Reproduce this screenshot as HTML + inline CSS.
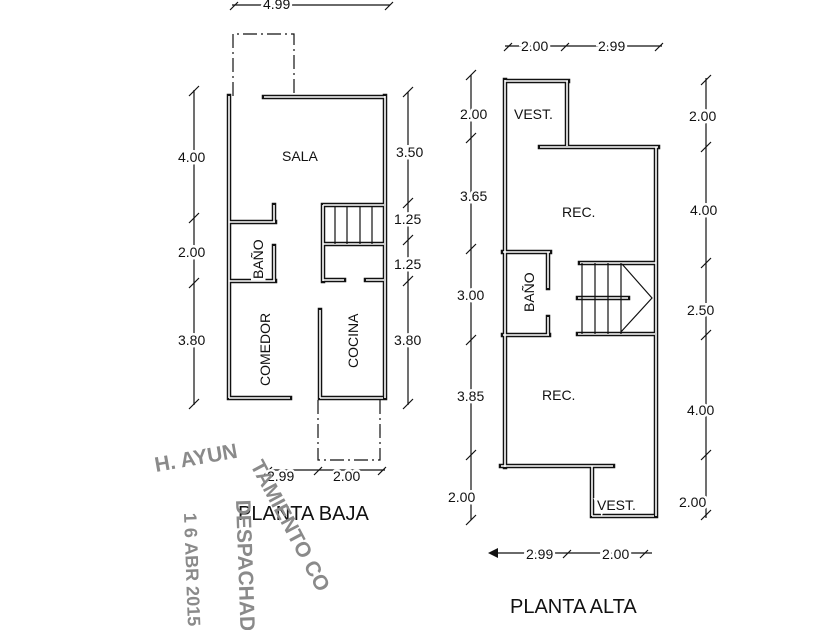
<!DOCTYPE html>
<html><head><meta charset="utf-8"><style>
html,body{margin:0;padding:0;background:#fff;}
svg{display:block}
text{font-family:"Liberation Sans",sans-serif;fill:#111}
</style></head><body>
<svg width="840" height="630" viewBox="0 0 840 630" xmlns="http://www.w3.org/2000/svg">
<defs>
<g id="wb">
<path d="M229 96 V398 M229 398 H290 M264 97 H385 M385 96 V398 M320 398 H383 M320 310 V398
M229 222 H275 M274 205 V222 M229 281 H275 M274 246 V281
M323 205 H384 M323 205 V245 M323 244 H384 M323 245 V281 M323 280 H344 M366 280 H384
M505 80 V467 M505 81 H568 M567 81 V146 M540 147 H658 M656 147 V516
M503 252 H550 M548 252 V288 M503 335 H549 M548 317 V335
M580 263 H656 M578 298 H628 M578 334 H655
M501 466 H613 M592 466 V516 M592 516 H654"/>
</g>
</defs>
<g fill="none" stroke="#111" stroke-width="4.5" stroke-linecap="square"><use href="#wb"/></g>
<g fill="none" stroke="#fff" stroke-width="1.6" stroke-linecap="butt"><use href="#wb"/></g>

<g stroke="#111" stroke-width="1.2" fill="none">
<path d="M335 206 V244 M347 206 V244 M360 206 V244 M372 206 V244"/>
<path d="M582 263 V334 M595 263 V334 M608 263 V334 M621 263 V334 M622 264 L652 298 L620 333"/>
<path d="M233 96 V34 H294 V96" stroke-dasharray="14 4 2 4"/>
<path d="M318 400 V460 H380 V400" stroke-dasharray="14 4 2 4"/>
<path d="M194 90 V405 M408 92 V405 M232 5 H390 M270 470 H385"/>
<path d="M189 96 l10 -10 M189 223 l10 -10 M189 288 l10 -10 M189 409 l10 -10
M403 97 l10 -10 M403 208 l10 -10 M403 245 l10 -10 M403 286 l10 -10 M403 409 l10 -10
M230 10 l8 -8 M385 10 l8 -8 M264 475 l8 -8 M314 475 l8 -8 M378 475 l8 -8"/>
<path d="M471 75 V520 M706 78 V518 M505 46 H662 M492 553 H652"/>
<path d="M466 80 l10 -10 M466 143 l10 -10 M466 254 l10 -10 M466 345 l10 -10 M466 460 l10 -10 M466 525 l10 -10
M701 85 l10 -10 M701 152 l10 -10 M701 268 l10 -10 M701 340 l10 -10 M701 460 l10 -10 M701 520 l10 -10
M504 51 l8 -8 M561 51 l8 -8 M655 51 l8 -8 M563 558 l8 -8 M640 558 l8 -8"/>
</g>

<g font-size="14" stroke="#fff" stroke-width="5" paint-order="stroke">
<text x="282" y="161">SALA</text>
<text x="263" y="9">4.99</text>
<text x="178" y="162">4.00</text>
<text x="178" y="257">2.00</text>
<text x="178" y="345">3.80</text>
<text x="396" y="157">3.50</text>
<text x="394" y="224">1.25</text>
<text x="394" y="269">1.25</text>
<text x="394" y="345">3.80</text>
<text x="267" y="481">2.99</text>
<text x="333" y="481">2.00</text>
<text transform="translate(263,279) rotate(-90)">BAÑO</text>
<text transform="translate(270,386) rotate(-90)">COMEDOR</text>
<text transform="translate(358,368) rotate(-90)">COCINA</text>

<text x="514" y="119">VEST.</text>
<text x="562" y="217">REC.</text>
<text x="542" y="400">REC.</text>
<text x="597" y="510">VEST.</text>
<text transform="translate(534,312) rotate(-90)">BAÑO</text>
<text x="460" y="119">2.00</text>
<text x="460" y="201">3.65</text>
<text x="457" y="300">3.00</text>
<text x="457" y="401">3.85</text>
<text x="448" y="502">2.00</text>
<text x="689" y="121">2.00</text>
<text x="690" y="215">4.00</text>
<text x="687" y="315">2.50</text>
<text x="687" y="415">4.00</text>
<text x="679" y="507">2.00</text>
<text x="521" y="51">2.00</text>
<text x="598" y="51">2.99</text>
<text x="526" y="559">2.99</text>
<text x="602" y="559">2.00</text>
</g>
<polygon points="488,553 498,548 498,558" fill="#111"/>
<text x="238" y="520" font-size="20">PLANTA BAJA</text>
<text x="510" y="613" font-size="20">PLANTA ALTA</text>

<g font-weight="bold" font-size="21">
<text x="156" y="472" transform="rotate(-10 156 472)" style="fill:#8a8a8a">H. AYUN</text>
<text transform="translate(250,465) rotate(62)" style="fill:#8a8a8a">TAMIENTO CO</text>
<text transform="translate(236,500) rotate(88)" style="fill:#8a8a8a">DESPACHAD</text>
<text transform="translate(184,513) rotate(88)" font-size="18" style="fill:#8a8a8a">1 6  ABR  2015</text>
</g>
</svg>
</body></html>
